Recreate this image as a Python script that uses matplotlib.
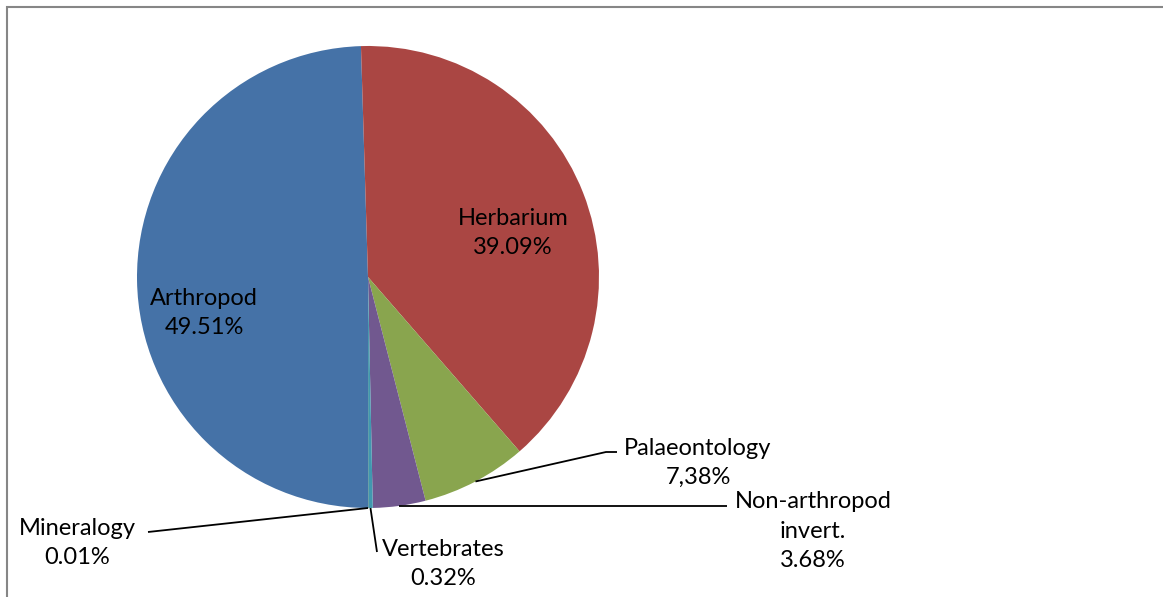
import numpy as np
import matplotlib.pyplot as plt
from matplotlib.patches import Rectangle

# data, in the order the slices are drawn (clockwise from 6 o'clock)
labels = ["Arthropod", "Herbarium", "Palaeontology", "Non-arthropod\ninvert.",
          "Vertebrates", "Mineralogy"]
pct_text = ["49.51%", "39.09%", "7,38%", "3.68%", "0.32%", "0.01%"]
values = [49.51, 39.09, 7.38, 3.68, 0.32, 0.01]
colors = ["#4572A7", "#AA4643", "#89A54E", "#71588F", "#4198AF", "#DB843D"]

W, H = 1163, 597
CX, CY, R = 368, 277, 231   # pie centre / radius in pixels

fig = plt.figure(figsize=(W / 100, H / 100), dpi=100)
ax = fig.add_axes([0, 0, 1, 1])
ax.axis("off")

def px(x, y):
    # pixel (from top-left) -> data units where pie radius = 1
    return (x - CX) / R, (CY - y) / R

wedges, _ = ax.pie(values, colors=colors, startangle=-90, counterclock=False,
                   radius=1, center=(0, 0), wedgeprops=dict(linewidth=0))
ax.set_xlim(-CX / R, (W - CX) / R)
ax.set_ylim((CY - H) / R, CY / R)
ax.set_aspect("auto")

fnt = dict(family=["Lato", "DejaVu Sans"], fontsize=17, color="black",
           ha="center", va="center", linespacing=1.5)

def anchor(w):
    a = np.deg2rad((w.theta1 + w.theta2) / 2)
    return np.cos(a), np.sin(a)

# labels inside the pie
x, y = px(204, 313)
ax.text(x, y, labels[0] + "\n" + pct_text[0], **fnt)
x, y = px(513, 233)
ax.text(x, y, labels[1] + "\n" + pct_text[1], **fnt)

# outside labels with leader lines
lk = dict(color="black", lw=1.3, solid_capstyle="butt")

# Palaeontology
ax0, ay0 = anchor(wedges[2])
x1, y1 = px(606, 452)
x2, y2 = px(617, 452)
ax.plot([ax0, x1, x2], [ay0, y1, y2], **lk)
x, y = px(698, 463)
ax.text(x, y, labels[2] + "\n" + pct_text[2], **fnt)

# Non-arthropod invert.
ax0, ay0 = anchor(wedges[3])
x1, y1 = px(727, 506)
ax.plot([ax0, x1], [ay0, ay0], **lk)
x, y = px(813, 531)
ax.text(x, y, labels[3] + "\n" + pct_text[3], **fnt)

# Vertebrates
ax0, ay0 = anchor(wedges[4])
x1, y1 = px(377, 552)
ax.plot([ax0, x1], [ay0, y1], **lk)
x, y = px(443, 564)
ax.text(x, y, labels[4] + "\n" + pct_text[4], **fnt)

# Mineralogy
ax0, ay0 = anchor(wedges[5])
x1, y1 = px(148, 532)
ax.plot([ax0, x1], [ay0, y1], **lk)
x, y = px(77, 543)
ax.text(x, y, labels[5] + "\n" + pct_text[5], **fnt)

# chart area border (runs off the right and bottom)
fig.patches.append(Rectangle((7 / W, -0.05), 1.2, (H - 7) / H + 0.05,
                             transform=fig.transFigure, fill=False,
                             edgecolor="#868686", lw=1.5))

fig.savefig("out.png", dpi=100)
